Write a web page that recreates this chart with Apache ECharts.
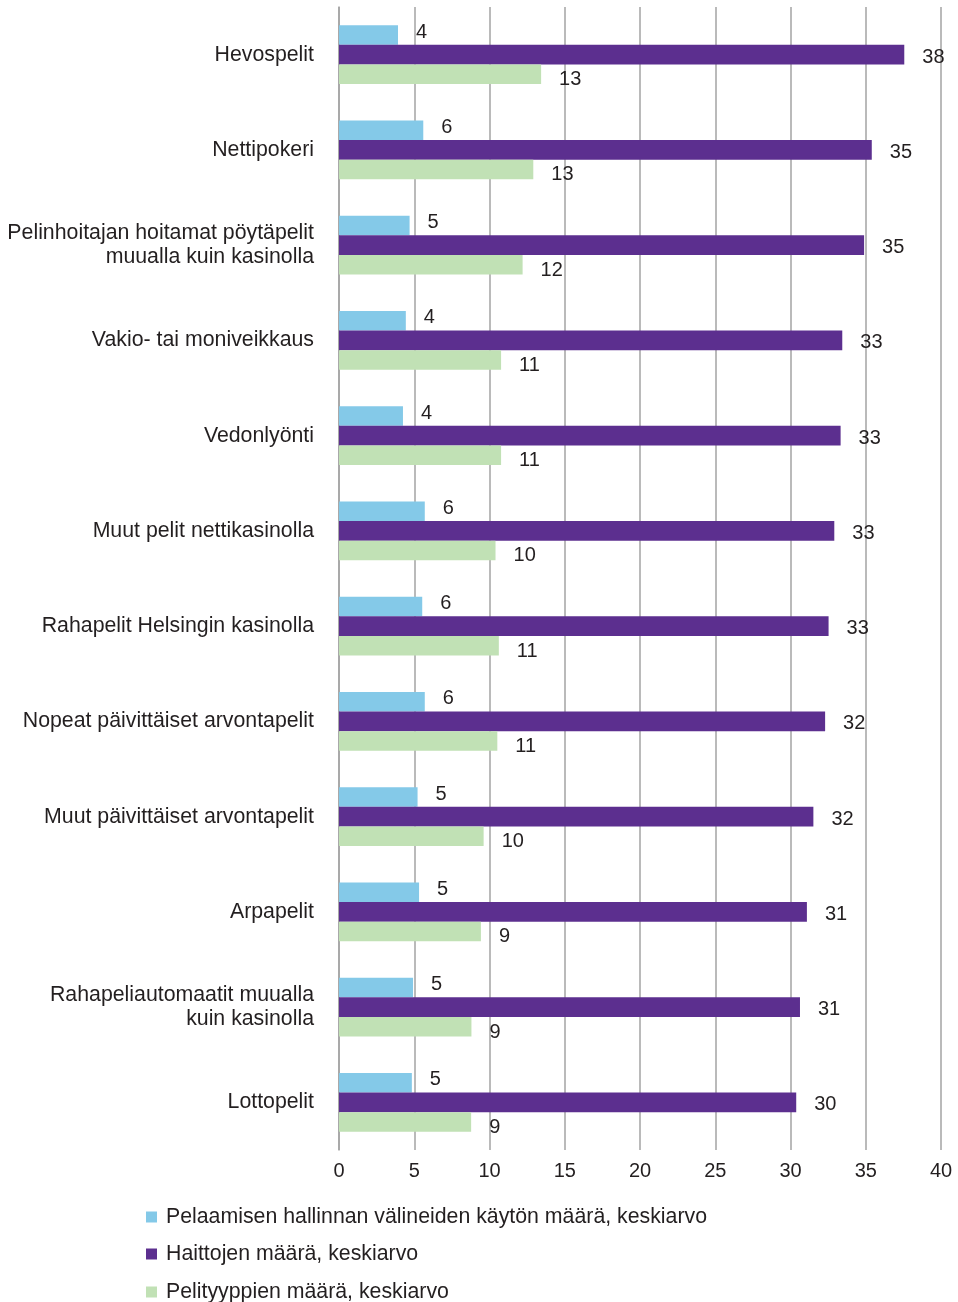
<!DOCTYPE html>
<html>
<head>
<meta charset="utf-8">
<script src="https://cdn.jsdelivr.net/npm/echarts@6/dist/echarts.min.js"></script>
<style>
  html, body { margin: 0; padding: 0; background: #ffffff; }
  #chart { width: 958px; height: 1302px; }
</style>
</head>
<body>
<div id="chart"></div>
<script>
// Game types, listed top to bottom
const categories = [
  'Hevospelit',
  'Nettipokeri',
  'Pelinhoitajan hoitamat pöytäpelit\nmuualla kuin kasinolla',
  'Vakio- tai moniveikkaus',
  'Vedonlyönti',
  'Muut pelit nettikasinolla',
  'Rahapelit Helsingin kasinolla',
  'Nopeat päivittäiset arvontapelit',
  'Muut päivittäiset arvontapelit',
  'Arpapelit',
  'Rahapeliautomaatit muualla\nkuin kasinolla',
  'Lottopelit'
];

const seriesNames = [
  'Pelaamisen hallinnan välineiden käytön määrä, keskiarvo',
  'Haittojen määrä, keskiarvo',
  'Pelityyppien määrä, keskiarvo'
];

// Average number of gambling control tools used
const toolsAvg = [3.92, 5.60, 4.69, 4.44, 4.25, 5.70, 5.53, 5.70, 5.22, 5.32, 4.92, 4.84];
// Average number of harms
const harmsAvg = [37.56, 35.40, 34.89, 33.44, 33.33, 32.91, 32.53, 32.30, 31.52, 31.09, 30.63, 30.38];
// Average number of game types played
const gameTypesAvg = [13.43, 12.91, 12.20, 10.77, 10.77, 10.40, 10.62, 10.52, 9.61, 9.43, 8.80, 8.78];

const xTicks = { min: 0, max: 40, interval: 5 };

const colors = ['#84C9E8', '#5C2F8F', '#C1E1B5'];
const textColor = '#231F20';
const gridColor = '#A3A3A3';
const fontFamily = '"Liberation Sans", Arial, sans-serif';

const chart = echarts.init(document.getElementById('chart'), null, { renderer: 'canvas' });

// Value labels sit just right of each bar; the top and bottom bars' labels
// are nudged apart so the three numbers of a group do not crowd together.
function barSeries(name, values, color, labelShift) {
  return {
    name: name,
    type: 'bar',
    data: values,
    barWidth: 19.6,
    barGap: '0%',
    itemStyle: { color: color },
    label: {
      show: true,
      position: 'right',
      distance: 18,
      offset: [0, labelShift],
      color: textColor,
      fontFamily: fontFamily,
      fontSize: 20,
      formatter: p => String(Math.round(p.value))
    },
    emphasis: { disabled: true },
    animation: false
  };
}

// One legend block per series, stacked in a column under the plot
const legendTops = [1201, 1238, 1276];
const legends = seriesNames.map((name, i) => ({
  orient: 'vertical',
  left: 141,
  top: legendTops[i],
  itemWidth: 11,
  itemHeight: 11,
  icon: 'rect',
  data: [name],
  textStyle: {
    color: textColor,
    fontFamily: fontFamily,
    fontSize: 21.3,
    lineHeight: 22,
    padding: [0, 0, 0, 4]
  },
  selectedMode: false
}));

chart.setOption({
  backgroundColor: '#ffffff',
  animation: false,
  color: colors,
  grid: {
    left: 339,
    right: 17,
    top: 7,
    bottom: 152,
    containLabel: false,
    outerBoundsMode: 'none'
  },
  xAxis: {
    type: 'value',
    min: xTicks.min,
    max: xTicks.max,
    interval: xTicks.interval,
    axisLine: { show: false },
    axisTick: { show: false },
    splitLine: { show: true, lineStyle: { color: gridColor, width: 1.5 } },
    axisLabel: {
      margin: 11,
      color: textColor,
      fontFamily: fontFamily,
      fontSize: 20
    }
  },
  yAxis: {
    type: 'category',
    data: categories,
    inverse: true,
    axisLine: { show: true, lineStyle: { color: gridColor, width: 1.5 } },
    axisTick: { show: false },
    splitLine: { show: false },
    axisLabel: {
      margin: 25,
      color: textColor,
      fontFamily: fontFamily,
      fontSize: 21.3,
      lineHeight: 24,
      align: 'right',
      padding: [4, 0, 0, 0]
    }
  },
  legend: legends,
  series: [
    barSeries(seriesNames[0], toolsAvg, colors[0], -3),
    barSeries(seriesNames[1], harmsAvg, colors[1], 2.5),
    barSeries(seriesNames[2], gameTypesAvg, colors[2], 5.5)
  ]
});
</script>
</body>
</html>
